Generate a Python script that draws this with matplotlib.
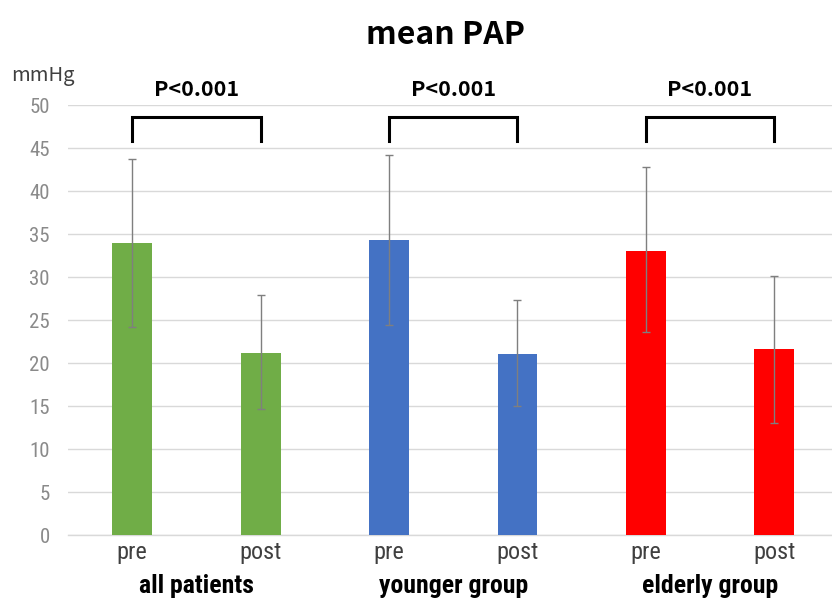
import matplotlib
matplotlib.use("Agg")
import matplotlib.pyplot as plt
from matplotlib import font_manager

categories = ["pre", "post", "pre", "post", "pre", "post"]
groups = ["all patients", "younger group", "elderly group"]
means = [34.0, 21.2, 34.3, 21.1, 33.1, 21.7]
err_upper = [43.8, 27.9, 44.2, 27.4, 42.8, 30.2]
err_lower = [24.2, 14.7, 24.4, 15.0, 23.6, 13.1]
colors = ["#70AD47", "#70AD47", "#4472C4", "#4472C4", "#FF0000", "#FF0000"]
p_labels = ["P<0.001", "P<0.001", "P<0.001"]
yticks = [0, 5, 10, 15, 20, 25, 30, 35, 40, 45, 50]

names = {f.name for f in font_manager.fontManager.ttflist}
narrow = "DejaVu Sans"
for cand in ["Roboto Condensed", "Liberation Sans Narrow", "Open Sans Condensed", "Roboto"]:
    if cand in names:
        narrow = cand
        break
jp = ["Noto Sans CJK JP", "DejaVu Sans"]

fig = plt.figure(figsize=(8.32, 5.99), dpi=100)
ax = fig.add_axes([68/832, 1-535.3/599, (832-68)/832, (535.3-105.3)/599])

x = list(range(len(categories)))
yerr = [[m - lo for m, lo in zip(means, err_lower)],
        [hi - m for m, hi in zip(means, err_upper)]]
ax.bar(x, means, width=0.31, color=colors, zorder=3)
ax.errorbar(x, means, yerr=yerr, fmt="none", ecolor="#7f7f7f", elinewidth=1.0,
            capsize=3, capthick=1.0, zorder=4)

ax.set_xlim(-0.5, 5.45)
ax.set_ylim(0, 50)
ax.set_yticks(yticks)
ax.set_yticklabels([str(t) for t in yticks], fontsize=15, color="#8a8a8a", family=narrow)
ax.yaxis.grid(True, color="#d9d9d9", lw=1.0, zorder=0)
ax.tick_params(axis="y", length=0, pad=13)
ax.tick_params(axis="x", length=0, pad=4)
ax.set_xticks(x)
ax.set_xticklabels(categories, fontsize=17.5, color="#404040", family=narrow)
for s in ["top", "right", "left"]:
    ax.spines[s].set_visible(False)
ax.spines["bottom"].set_color("#d9d9d9")
ax.spines["bottom"].set_linewidth(1.0)

# group labels
for i, g in enumerate(groups):
    ax.text(2*i + 0.5, -0.118, g, transform=ax.get_xaxis_transform(), ha="center", va="center",
            fontsize=18.5, fontweight="bold", family=narrow, color="#000000")

# brackets and p-values
for i, p in enumerate(p_labels):
    x0, x1 = 2*i, 2*i + 1
    ax.plot([x0, x0, x1, x1], [45.8, 48.6, 48.6, 45.8], color="black", lw=2.2,
            clip_on=False, zorder=5, solid_joinstyle="miter")
    ax.text(0.5*(x0 + x1), 51.8, p, ha="center", va="center", fontsize=15.5,
            fontweight="bold", family=jp, clip_on=False)

ax.text(-0.033, 1.07, "mmHg", transform=ax.transAxes, ha="center", va="center",
        fontsize=14.5, color="#404040", family=jp)
fig.text(0.535, 1-35/599, "mean PAP", ha="center", va="center", fontsize=23,
         fontweight="bold", family=jp)

fig.savefig("out.png", dpi=100)
